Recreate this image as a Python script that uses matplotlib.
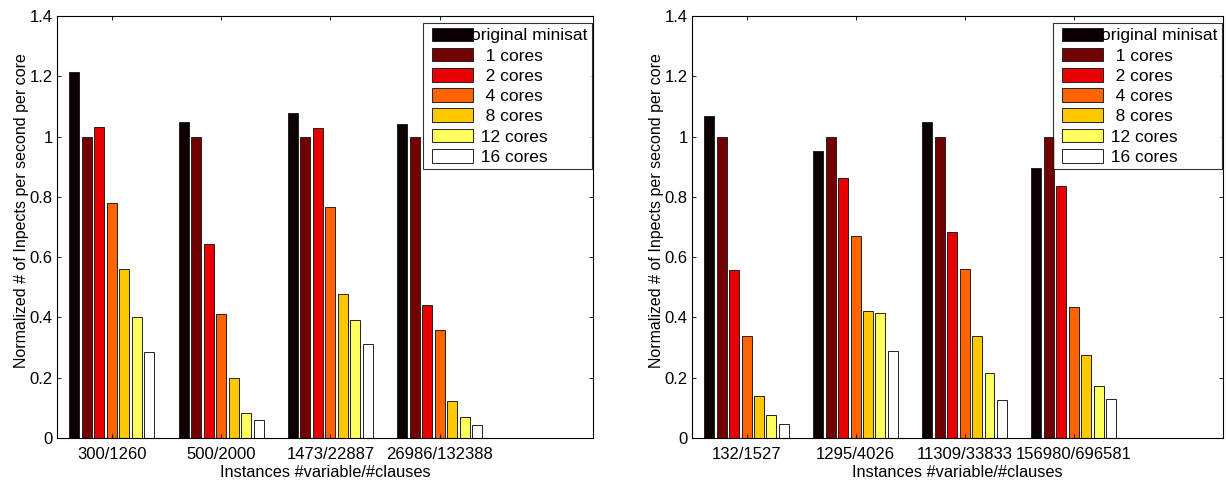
import matplotlib
matplotlib.use("Agg")
import matplotlib.pyplot as plt
from matplotlib.legend_handler import HandlerPatch
from matplotlib.patches import Rectangle
import numpy as np

plt.rcParams['font.family'] = ['Liberation Sans', 'DejaVu Sans']
plt.rcParams['font.size'] = 12

# series names and colours
series = ['original minisat', '   1 cores', '   2 cores', '   4 cores',
          '   8 cores', '  12 cores', '  16 cores']
colors = ['#0d0000', '#730000', '#e80000', '#ff6400', '#ffc800', '#ffff5e', '#ffffff']

# left panel
left_instances = ['300/1260', '500/2000', '1473/22887', '26986/132388']
left_original = [1.215, 1.048, 1.079, 1.042]
left_1 = [1.0, 1.0, 1.0, 1.0]
left_2 = [1.032, 0.645, 1.028, 0.441]
left_4 = [0.781, 0.413, 0.765, 0.358]
left_8 = [0.561, 0.200, 0.478, 0.124]
left_12 = [0.403, 0.082, 0.391, 0.070]
left_16 = [0.286, 0.060, 0.311, 0.042]

# right panel
right_instances = ['132/1527', '1295/4026', '11309/33833', '156980/696581']
right_original = [1.069, 0.952, 1.048, 0.897]
right_1 = [1.0, 1.0, 1.0, 1.0]
right_2 = [0.556, 0.863, 0.683, 0.835]
right_4 = [0.337, 0.671, 0.562, 0.436]
right_8 = [0.139, 0.421, 0.340, 0.275]
right_12 = [0.076, 0.416, 0.216, 0.173]
right_16 = [0.048, 0.287, 0.125, 0.129]

yticks = [0, 0.2, 0.4, 0.6, 0.8, 1.0, 1.2, 1.4]
ytick_labels = ['0', '0.2', '0.4', '0.6', '0.8', '1', '1.2', '1.4']


def draw_panel(ax, instances, values, xmax):
    x = np.arange(1, len(instances) + 1)
    slot = 0.8 / len(values)
    handles = []
    for j, vals in enumerate(values):
        offset = (j - (len(values) - 1) / 2) * slot
        bars = ax.bar(x + offset, vals, width=slot * 0.8, color=colors[j],
                      edgecolor='#222222', linewidth=0.7, label=series[j])
        handles.append(bars.patches[0])
    ax.set_xlim(0.5, xmax)
    ax.set_ylim(0, 1.4)
    ax.set_xticks(x)
    ax.set_xticklabels(instances)
    ax.set_yticks(yticks)
    ax.set_yticklabels(ytick_labels)
    ax.tick_params(direction='in', top=True, right=True, length=3.2, width=0.6,
                   labelsize=12)
    ax.tick_params(axis='x', pad=6.5)
    ax.tick_params(axis='y', pad=3)
    for s in ax.spines.values():
        s.set_linewidth(0.8)
    ax.set_xlabel('Instances #variable/#clauses', fontsize=11.8, labelpad=2)
    ax.set_ylabel('Normalized # of Inpects per second per core', fontsize=11.5)
    ax.yaxis.set_label_coords(-0.052, 0.54)
    leg = ax.legend(handles, series, loc='upper right',
                    bbox_to_anchor=(0.998, 0.983),
                    borderaxespad=0, fancybox=False, frameon=True,
                    handler_map={Rectangle: HandlerPatch(xpad=0.24)},
                    handlelength=2.63, handleheight=0.84, handletextpad=-0.12,
                    labelspacing=0.25, borderpad=0.25, fontsize=12.5)
    leg.get_frame().set_edgecolor('black')
    leg.get_frame().set_linewidth(0.8)


fig = plt.figure(figsize=(12.26, 4.83), dpi=100)
ax1 = fig.add_axes([57 / 1226, 45 / 483, 536 / 1226, 422 / 483])
ax2 = fig.add_axes([692 / 1226, 45 / 483, 531 / 1226, 422 / 483])

draw_panel(ax1, left_instances,
           [left_original, left_1, left_2, left_4, left_8, left_12, left_16], 5.4)
draw_panel(ax2, right_instances,
           [right_original, right_1, right_2, right_4, right_8, right_12, right_16], 5.37)

fig.savefig('out.png', dpi=100)
